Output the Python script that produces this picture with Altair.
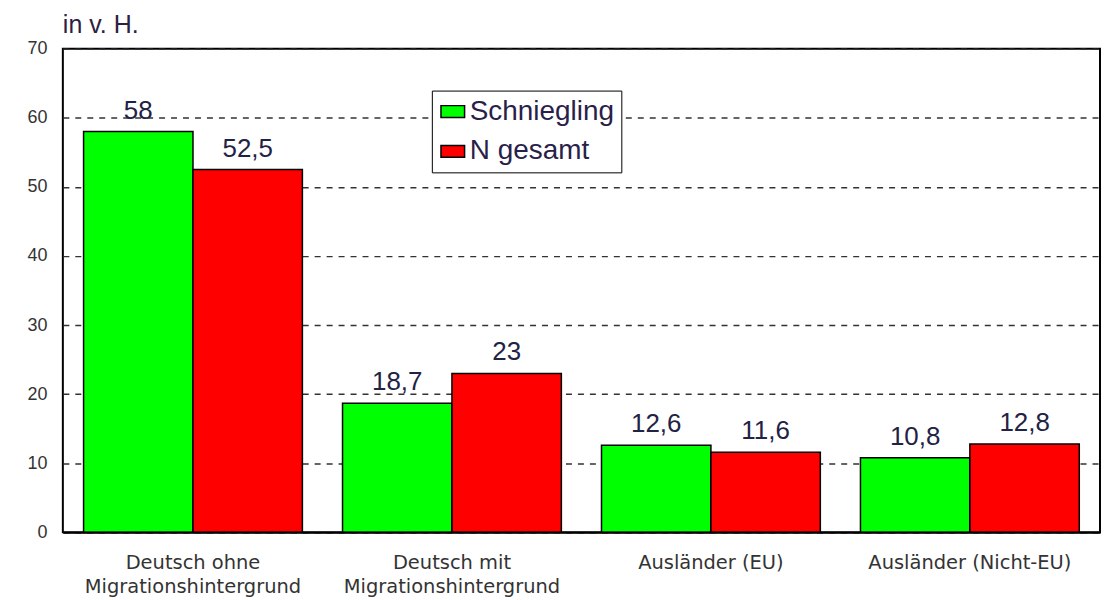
import altair as alt
import pandas as pd

categories = [
    "Deutsch ohne\nMigrationshintergrund",
    "Deutsch mit\nMigrationshintergrund",
    "Ausländer (EU)",
    "Ausländer (Nicht-EU)",
]
series = ["Schniegling", "N gesamt"]
schniegling = [58, 18.7, 12.6, 10.8]
n_gesamt = [52.5, 23, 11.6, 12.8]
colors = ["#00ff00", "#ff0000"]

rows = []
for c, a, b in zip(categories, schniegling, n_gesamt):
    rows.append({"cat": c, "series": series[0], "value": a})
    rows.append({"cat": c, "series": series[1], "value": b})
df = pd.DataFrame(rows)

x = alt.X(
    "cat:N",
    sort=categories,
    scale=alt.Scale(paddingInner=0.155, paddingOuter=0.08),
    axis=alt.Axis(
        title=None,
        labelExpr="split(datum.value, '\\n')",
        labelAngle=0,
        labelFont="DejaVu Sans",
        labelFontSize=19.5,
        labelColor="#333333",
        labelLineHeight=24,
        labelPadding=21,
        labelLimit=0,
        ticks=False,
        domainColor="#000000",
        domainWidth=2,
        grid=False,
        zindex=1,
    ),
)
xo = alt.XOffset("series:N", sort=series)
y = alt.Y(
    "value:Q",
    scale=alt.Scale(domain=[0, 70], nice=False),
    axis=alt.Axis(
        title=None,
        values=[0, 10, 20, 30, 40, 50, 60, 70],
        labelFont="Liberation Sans",
        labelFontSize=18,
        labelColor="#333333",
        labelPadding=16,
        ticks=False,
        domain=False,
        grid=True,
        gridColor="#333333",
        gridDash=[6, 6],
        gridWidth=1.5,
    ),
)
nbsp = "\u00a0" * 4
color = alt.Color(
    "series:N",
    sort=series,
    scale=alt.Scale(domain=series, range=colors),
    legend=alt.Legend(
        title=None,
        orient="none",
        legendX=370,
        legendY=42,
        symbolType="M-1,-0.5H1V0.5H-1Z",
        symbolSize=560,
        symbolStrokeColor="#000000",
        symbolStrokeWidth=1.5,
        labelFont="Liberation Sans",
        labelFontSize=28,
        labelColor="#2a1f4a",
        labelExpr=f"datum.label + '{nbsp}'",
        labelLimit=400,
        rowPadding=12,
        labelOffset=3,
        padding=7,
        strokeColor="#000000",
        fillColor="#ffffff",
    ),
)

bars = alt.Chart(df).mark_bar(stroke="#000000", strokeWidth=1.5).encode(
    x=x, xOffset=xo, y=y, color=color
)
labels = alt.Chart(df).transform_calculate(
    lab="replace(toString(datum.value), '.', ',')"
).mark_text(
    dy=-8, fontSize=26, font="Liberation Sans", color="#222244", baseline="bottom"
).encode(x=x, xOffset=xo, y=y, text="lab:N")

chart = (
    alt.layer(bars, labels)
    .properties(
        width=1040,
        height=485,
        padding={"left": 18, "top": 4, "right": 2, "bottom": 0},
        title=alt.TitleParams(
            "in v. H.",
            anchor="start",
            frame="group",
            font="Liberation Sans",
            fontSize=25,
            fontWeight="normal",
            color="#2d2040",
            offset=2,
        ),
    )
    .configure_view(stroke="#000000", strokeWidth=2)
)

chart.save("out.html", embed_options={"renderer": "svg", "actions": False})
